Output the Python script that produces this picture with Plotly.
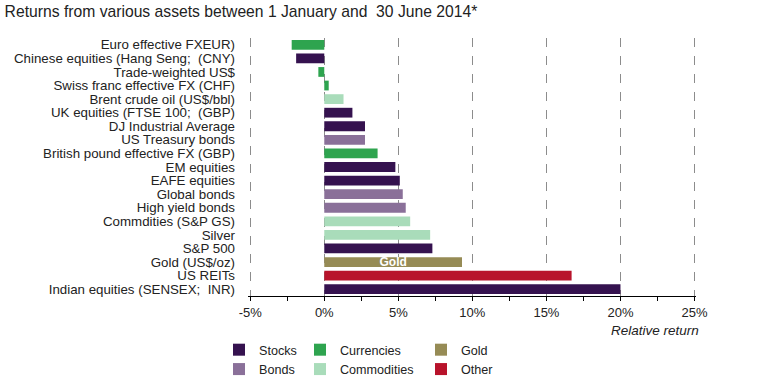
import plotly.graph_objects as go

# ---------------- data ----------------
labels = [
    "Euro effective FXEUR)",
    "Chinese equities (Hang Seng;  (CNY)",
    "Trade-weighted US$",
    "Swiss franc effective FX (CHF)",
    "Brent crude oil (US$/bbl)",
    "UK equities (FTSE 100;  (GBP)",
    "DJ Industrial Average",
    "US Treasury bonds",
    "British pound effective FX (GBP)",
    "EM equities",
    "EAFE equities",
    "Global bonds",
    "High yield bonds",
    "Commdities (S&P GS)",
    "Silver",
    "S&P 500",
    "Gold (US$/oz)",
    "US REITs",
    "Indian equities (SENSEX;  INR)",
]
returns = [-2.2, -1.9, -0.4, 0.3, 1.3, 1.9, 2.75, 2.75, 3.6, 4.8, 5.1, 5.3, 5.5, 5.8,
           7.15, 7.3, 9.3, 16.7, 20.0]
groups = ["Currencies", "Stocks", "Currencies", "Currencies", "Commodities", "Stocks",
          "Stocks", "Bonds", "Currencies", "Stocks", "Stocks", "Bonds", "Bonds",
          "Commodities", "Commodities", "Stocks", "Gold", "Other", "Stocks"]
group_names = ["Stocks", "Bonds", "Currencies", "Commodities", "Gold", "Other"]
group_colors = {"Stocks": "#35124f", "Bonds": "#8a7099", "Currencies": "#2ea44f",
                "Commodities": "#a9dcba", "Gold": "#968b55", "Other": "#b8132b"}
group_legend = {"Stocks": "legend", "Bonds": "legend", "Currencies": "legend2",
                "Commodities": "legend2", "Gold": "legend3", "Other": "legend3"}
bar_text = {"Gold": "Gold"}
x_tickvals = [-5, 0, 5, 10, 15, 20, 25]
x_ticktext = ["-5%", "0%", "5%", "10%", "15%", "20%", "25%"]
x_range = [-5.15, 25.1]

FONT = "Liberation Sans, Arial, sans-serif"
n = len(labels)
pos = list(range(n))

fig = go.Figure()
for g in group_names:
    idx = [i for i in pos if groups[i] == g]
    fig.add_trace(go.Bar(
        x=[returns[i] for i in idx], y=idx, orientation="h", name=g,
        marker=dict(color=group_colors[g], line=dict(width=0)), width=0.72,
        text=[bar_text.get(g, "") for _ in idx], textposition="inside",
        insidetextanchor="middle", constraintext="none", cliponaxis=False,
        textfont=dict(color="white", size=12, family=FONT, weight="bold"),
        legend=group_legend[g], hoverinfo="x+y",
    ))

yr = [n - 0.5, -0.5]
zero_pos = (0 - x_range[0]) / (x_range[1] - x_range[0])
bounds = [i - 0.5 for i in range(n + 1)]

leg_common = dict(xref="container", yref="container", xanchor="left", yanchor="top",
                  orientation="v", font=dict(size=12.6), bgcolor="rgba(0,0,0,0)",
                  traceorder="normal", tracegroupgap=0)

fig.update_layout(
    width=769, height=384,
    margin=dict(l=248, r=73, t=38, b=88, autoexpand=False),
    paper_bgcolor="white", plot_bgcolor="white",
    font=dict(family=FONT, color="#222222", size=13),
    title=dict(text="Returns from various assets between 1 January and  30 June 2014*",
               x=0.006, xref="container", xanchor="left",
               y=1 - 12 / 384, yref="container", yanchor="middle",
               font=dict(size=15.7, color="#222222", family=FONT)),
    xaxis=dict(range=x_range, tickmode="array", tickvals=x_tickvals, ticktext=x_ticktext,
               showgrid=True, griddash="dash", gridcolor="#8c8c8c", gridwidth=1,
               zeroline=False, showline=True, linecolor="black", linewidth=1,
               ticks="outside", ticklen=4, tickcolor="black",
               minor=dict(tickmode="linear", tick0=0, dtick=2.5, ticks="outside",
                          ticklen=4, tickcolor="black", showgrid=False),
               tickfont=dict(size=13, color="#222222"), fixedrange=True,
               automargin=False),
    yaxis=dict(range=yr, tickmode="array", tickvals=pos, ticktext=labels,
               showgrid=False, zeroline=False, showline=False, ticks="",
               ticklabelstandoff=12, automargin=False,
               tickfont=dict(size=13.3, color="#222222"), fixedrange=True),
    yaxis2=dict(range=yr, overlaying="y", anchor="free", position=zero_pos,
                side="left", tickmode="array", tickvals=bounds, showticklabels=False,
                ticks="outside", ticklen=4, tickcolor="black", showline=True,
                linecolor="black", linewidth=1.2, showgrid=False, zeroline=False,
                fixedrange=True, automargin=False),
    yaxis3=dict(range=yr, overlaying="y", anchor="free", position=zero_pos,
                side="right", tickmode="array", tickvals=bounds, showticklabels=False,
                ticks="outside", ticklen=4, tickcolor="black", showline=False,
                showgrid=False, zeroline=False, fixedrange=True, automargin=False),
    annotations=[dict(text="<i>Relative return</i>", xref="paper", yref="paper",
                      x=1.012, y=-0.135, xanchor="right", yanchor="middle",
                      showarrow=False, font=dict(size=13.5, color="#222222"))],
    legend=dict(x=219 / 769, y=1 - 335 / 384, **leg_common),
    legend2=dict(x=300 / 769, y=1 - 335 / 384, **leg_common),
    legend3=dict(x=421 / 769, y=1 - 335 / 384, **leg_common),
)

fig.write_html("out.html", config={"displayModeBar": False},
               post_script="document.body.style.margin='0px';")
